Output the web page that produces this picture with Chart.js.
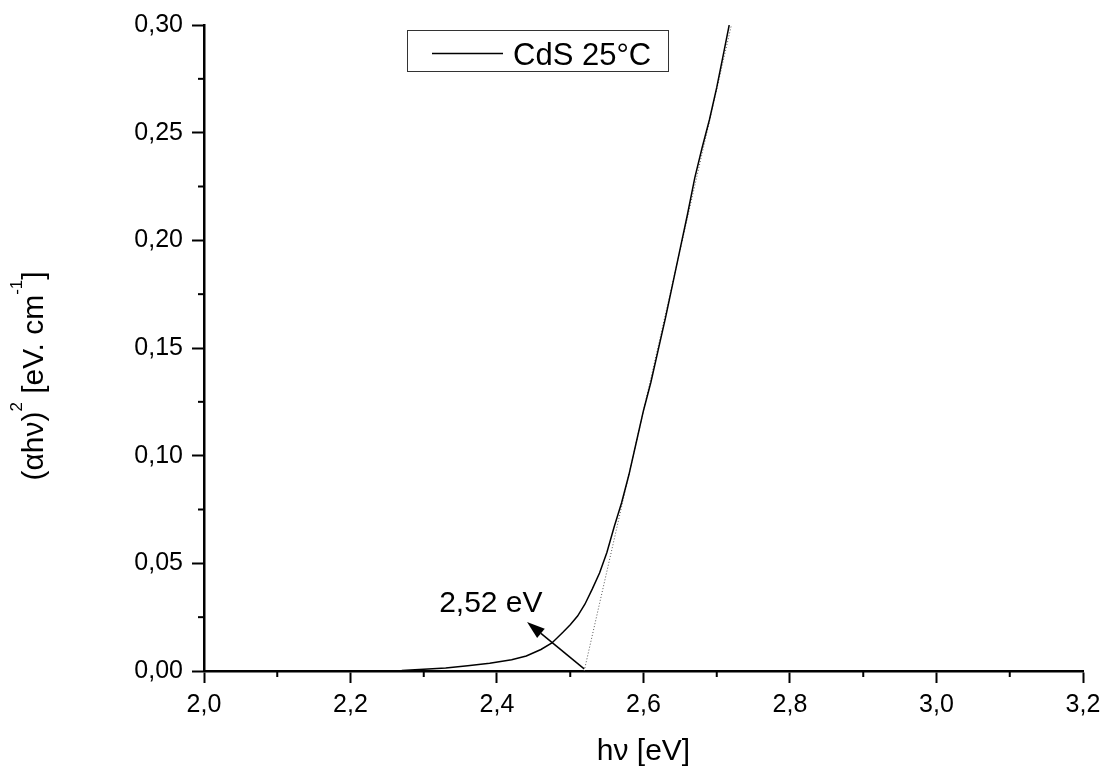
<!DOCTYPE html>
<html lang="en">
<head>
<meta charset="UTF-8">
<title>CdS band gap</title>
<script src="https://cdn.jsdelivr.net/npm/chart.js@4.4.0/dist/chart.umd.min.js"></script>
<style>
    html, body { margin: 0; padding: 0; background: #ffffff; }
    canvas { display: block; }
</style>
</head>
<body>
<canvas id="gapChart" width="1111" height="770"></canvas>
<script>
// measured curve (hv in eV, (alpha hv)^2)
const energy = [2.27, 2.30, 2.33, 2.36, 2.39, 2.42, 2.44, 2.46, 2.475, 2.49, 2.50, 2.51, 2.52, 2.53, 2.54,
                2.55, 2.56, 2.57, 2.58, 2.59, 2.60, 2.61, 2.62, 2.63, 2.64, 2.65, 2.66, 2.67, 2.68, 2.69,
                2.70, 2.71, 2.717];
const absorb = [0.0002, 0.0008, 0.0014, 0.0024, 0.0036, 0.0052, 0.0070, 0.0100, 0.0130, 0.0180, 0.0215,
                0.0255, 0.0310, 0.0380, 0.0455, 0.0550, 0.0670, 0.0780, 0.0910, 0.1060, 0.1210, 0.1340,
                0.1490, 0.1640, 0.1800, 0.1960, 0.2120, 0.2290, 0.2430, 0.2560, 0.2710, 0.2880, 0.3000];

// linear fit extrapolated to the axis
const tangentX = [2.519, 2.72];
const tangentY = [0, 0.30];

// annotation
const arrowFrom = [2.519, 0.001];
const arrowTo = [2.441, 0.0228];
const gapLabel = '2,52 eV';
const gapLabelAt = [2.321, 0.0274];

const xTicks = [2.0, 2.2, 2.4, 2.6, 2.8, 3.0, 3.2];
const xMinor = [2.1, 2.3, 2.5, 2.7, 2.9, 3.1];
const yTicks = [0, 0.05, 0.10, 0.15, 0.20, 0.25, 0.30];
const yMinor = [0.025, 0.075, 0.125, 0.175, 0.225, 0.275];

const seriesName = 'CdS 25°C';
const family = "'Liberation Sans', Arial, sans-serif";

const extras = {
    id: 'extras',
    afterDraw(chart) {
        const ctx = chart.ctx;
        const x = chart.scales.x, y = chart.scales.y;
        ctx.save();

        // minor ticks
        ctx.strokeStyle = '#000';
        ctx.lineWidth = 2;
        xMinor.forEach(v => {
            const px = x.getPixelForValue(v);
            ctx.beginPath();
            ctx.moveTo(px, y.bottom);
            ctx.lineTo(px, y.bottom + 6);
            ctx.stroke();
        });
        yMinor.forEach(v => {
            const py = y.getPixelForValue(v);
            ctx.beginPath();
            ctx.moveTo(x.left, py);
            ctx.lineTo(x.left - 6, py);
            ctx.stroke();
        });

        // arrow
        const x0 = x.getPixelForValue(arrowFrom[0]), y0 = y.getPixelForValue(arrowFrom[1]);
        const x1 = x.getPixelForValue(arrowTo[0]), y1 = y.getPixelForValue(arrowTo[1]);
        const ang = Math.atan2(y1 - y0, x1 - x0);
        const headLen = 18, headW = 6;
        const bx = x1 - headLen * Math.cos(ang), by = y1 - headLen * Math.sin(ang);
        ctx.lineWidth = 1.5;
        ctx.beginPath();
        ctx.moveTo(x0, y0);
        ctx.lineTo(bx, by);
        ctx.stroke();
        ctx.fillStyle = '#000';
        ctx.beginPath();
        ctx.moveTo(x1, y1);
        ctx.lineTo(bx + headW * Math.sin(ang), by - headW * Math.cos(ang));
        ctx.lineTo(bx - headW * Math.sin(ang), by + headW * Math.cos(ang));
        ctx.closePath();
        ctx.fill();

        // annotation text
        ctx.font = '30px ' + family;
        ctx.textAlign = 'left';
        ctx.textBaseline = 'alphabetic';
        ctx.fillText(gapLabel, x.getPixelForValue(gapLabelAt[0]), y.getPixelForValue(gapLabelAt[1]));

        // legend box
        ctx.strokeStyle = '#333';
        ctx.lineWidth = 1;
        ctx.strokeRect(407.5, 30.5, 261, 41);
        ctx.strokeStyle = '#000';
        ctx.lineWidth = 1.5;
        ctx.beginPath();
        ctx.moveTo(432, 53.5);
        ctx.lineTo(503, 53.5);
        ctx.stroke();
        ctx.font = '31px ' + family;
        ctx.fillText(seriesName, 513, 65);

        // y axis title with superscripts
        const parts = [
            { t: '(αhν)', s: 30, up: 0 },
            { t: '2', s: 17, up: 21 },
            { t: ' [eV. cm', s: 30, up: 0 },
            { t: '-1', s: 17, up: 21 },
            { t: ']', s: 30, up: 0 }
        ];
        let total = 0;
        parts.forEach(p => {
            ctx.font = p.s + 'px ' + family;
            p.w = ctx.measureText(p.t).width;
            total += p.w;
        });
        ctx.translate(43, 376);
        ctx.rotate(-Math.PI / 2);
        let cx = -total / 2;
        parts.forEach(p => {
            ctx.font = p.s + 'px ' + family;
            ctx.fillText(p.t, cx, -p.up);
            cx += p.w;
        });

        ctx.restore();
    }
};

const ctx = document.getElementById('gapChart').getContext('2d');

const gapChart = new Chart(ctx, {
    type: 'line',
    data: {
        datasets: [
            {
                label: seriesName,
                data: energy.map((e, i) => ({ x: e, y: absorb[i] })),
                borderColor: '#000000',
                borderWidth: 1.5,
                pointRadius: 0,
                tension: 0,
                fill: false
            },
            {
                label: 'fit',
                data: tangentX.map((e, i) => ({ x: e, y: tangentY[i] })),
                borderColor: '#555555',
                borderWidth: 1,
                borderDash: [1, 2],
                pointRadius: 0,
                fill: false
            }
        ]
    },
    options: {
        responsive: false,
        animation: false,
        layout: { padding: { top: 25, right: 28, left: 0, bottom: 0 } },
        plugins: {
            legend: { display: false },
            tooltip: { enabled: false }
        },
        scales: {
            x: {
                type: 'linear',
                min: 2.0,
                max: 3.2,
                afterBuildTicks: s => { s.ticks = xTicks.map(v => ({ value: v })); },
                afterFit: s => { s.height = 99; },
                grid: { drawOnChartArea: false, drawTicks: true, tickLength: 12, tickWidth: 2, tickColor: '#000' },
                border: { color: '#000', width: 2.5 },
                ticks: {
                    color: '#000',
                    font: { family: family, size: 25 },
                    padding: 7,
                    maxRotation: 0,
                    autoSkip: false,
                    callback: v => Number(v).toFixed(1).replace('.', ',')
                },
                title: {
                    display: true,
                    text: 'hν [eV]',
                    color: '#000',
                    font: { family: family, size: 30 },
                    padding: { top: 0, bottom: 0 }
                }
            },
            y: {
                type: 'linear',
                min: 0,
                max: 0.30,
                afterBuildTicks: s => { s.ticks = yTicks.map(v => ({ value: v })); },
                afterFit: s => { s.width = 204; },
                grid: { drawOnChartArea: false, drawTicks: true, tickLength: 12, tickWidth: 2, tickColor: '#000' },
                border: { color: '#000', width: 2.5 },
                ticks: {
                    color: '#000',
                    font: { family: family, size: 25 },
                    padding: 9,
                    autoSkip: false,
                    callback: v => Number(v).toFixed(2).replace('.', ',')
                }
            }
        }
    },
    plugins: [extras]
});
</script>
</body>
</html>
